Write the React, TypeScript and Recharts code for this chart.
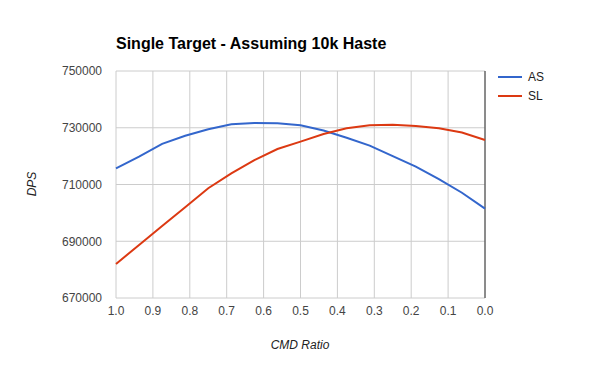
import {
  LineChart,
  Line,
  CartesianGrid,
  XAxis,
  YAxis,
  ReferenceLine,
} from "recharts";

const cmdRatio = [
  1.0, 0.9375, 0.875, 0.8125, 0.75, 0.6875, 0.625, 0.5625, 0.5, 0.4375, 0.375,
  0.3125, 0.25, 0.1875, 0.125, 0.0625, 0.0,
];

const asDps = [
  715700, 719800, 724300, 727200, 729500, 731200, 731700, 731600, 730900,
  729000, 726500, 723700, 720000, 716300, 711900, 707100, 701500,
];

const slDps = [
  682000, 688700, 695400, 702000, 708700, 713900, 718600, 722500, 725100,
  727800, 729800, 730900, 731100, 730600, 729800, 728300, 725700,
];

const xTicks = [0, 0.1, 0.2, 0.3, 0.4, 0.5, 0.6, 0.7, 0.8, 0.9, 1.0];
const yTicks = [670000, 690000, 710000, 730000, 750000];

const seriesNames = ["AS", "SL"];
const seriesColors = ["#3366cc", "#dc3912"];

const chartData = cmdRatio.map((ratio, i) => ({
  ratio,
  AS: asDps[i],
  SL: slDps[i],
}));

const font = "Arial, 'Liberation Sans', sans-serif";

function ChartLegend() {
  return (
    <div
      style={{
        position: "absolute",
        left: 498,
        top: 67,
        fontSize: 12,
        color: "#222",
      }}
    >
      {seriesNames.map((name, i) => (
        <div
          key={name}
          style={{ display: "flex", alignItems: "center", height: 19 }}
        >
          <span
            style={{
              display: "inline-block",
              width: 24,
              height: 2,
              background: seriesColors[i],
              marginRight: 6,
            }}
          />
          {name}
        </div>
      ))}
    </div>
  );
}

export default function App() {
  return (
    <div
      style={{
        position: "fixed",
        top: 0,
        left: 0,
        width: 600,
        height: 371,
        background: "#fff",
        fontFamily: font,
      }}
    >
      <LineChart
        width={600}
        height={371}
        data={chartData}
        margin={{ top: 71, right: 115, left: 16, bottom: 0 }}
      >
        <CartesianGrid stroke="#cccccc" />
        <XAxis
          dataKey="ratio"
          type="number"
          domain={[0, 1]}
          ticks={xTicks}
          reversed
          tickFormatter={(v: number) => v.toFixed(1)}
          axisLine={false}
          tickLine={false}
          tickSize={0}
          tickMargin={8}
          height={73}
          interval={0}
          tick={{ fontSize: 12, fill: "#444", fontFamily: font }}
        />
        <YAxis
          type="number"
          domain={[670000, 750000]}
          ticks={yTicks}
          width={100}
          axisLine={false}
          tickLine={false}
          tickSize={0}
          tickMargin={14}
          interval={0}
          tick={{ fontSize: 12, fill: "#444", fontFamily: font }}
        />
        <ReferenceLine x={0} stroke="#333333" strokeWidth={1} />
        {seriesNames.map((name, i) => (
          <Line
            key={name}
            type="linear"
            dataKey={name}
            stroke={seriesColors[i]}
            strokeWidth={2}
            dot={false}
            isAnimationActive={false}
          />
        ))}
      </LineChart>

      <div
        style={{
          position: "absolute",
          left: 116,
          top: 35,
          fontSize: 16,
          fontWeight: "bold",
          color: "#000",
        }}
      >
        Single Target - Assuming 10k Haste
      </div>

      <div
        style={{
          position: "absolute",
          left: 32,
          top: 184,
          transform: "translate(-50%, -50%) rotate(-90deg)",
          fontSize: 12,
          fontStyle: "italic",
          color: "#222",
        }}
      >
        DPS
      </div>

      <div
        style={{
          position: "absolute",
          left: 300,
          top: 345,
          transform: "translate(-50%, -50%)",
          fontSize: 12,
          fontStyle: "italic",
          color: "#222",
        }}
      >
        CMD Ratio
      </div>

      <ChartLegend />
    </div>
  );
}
